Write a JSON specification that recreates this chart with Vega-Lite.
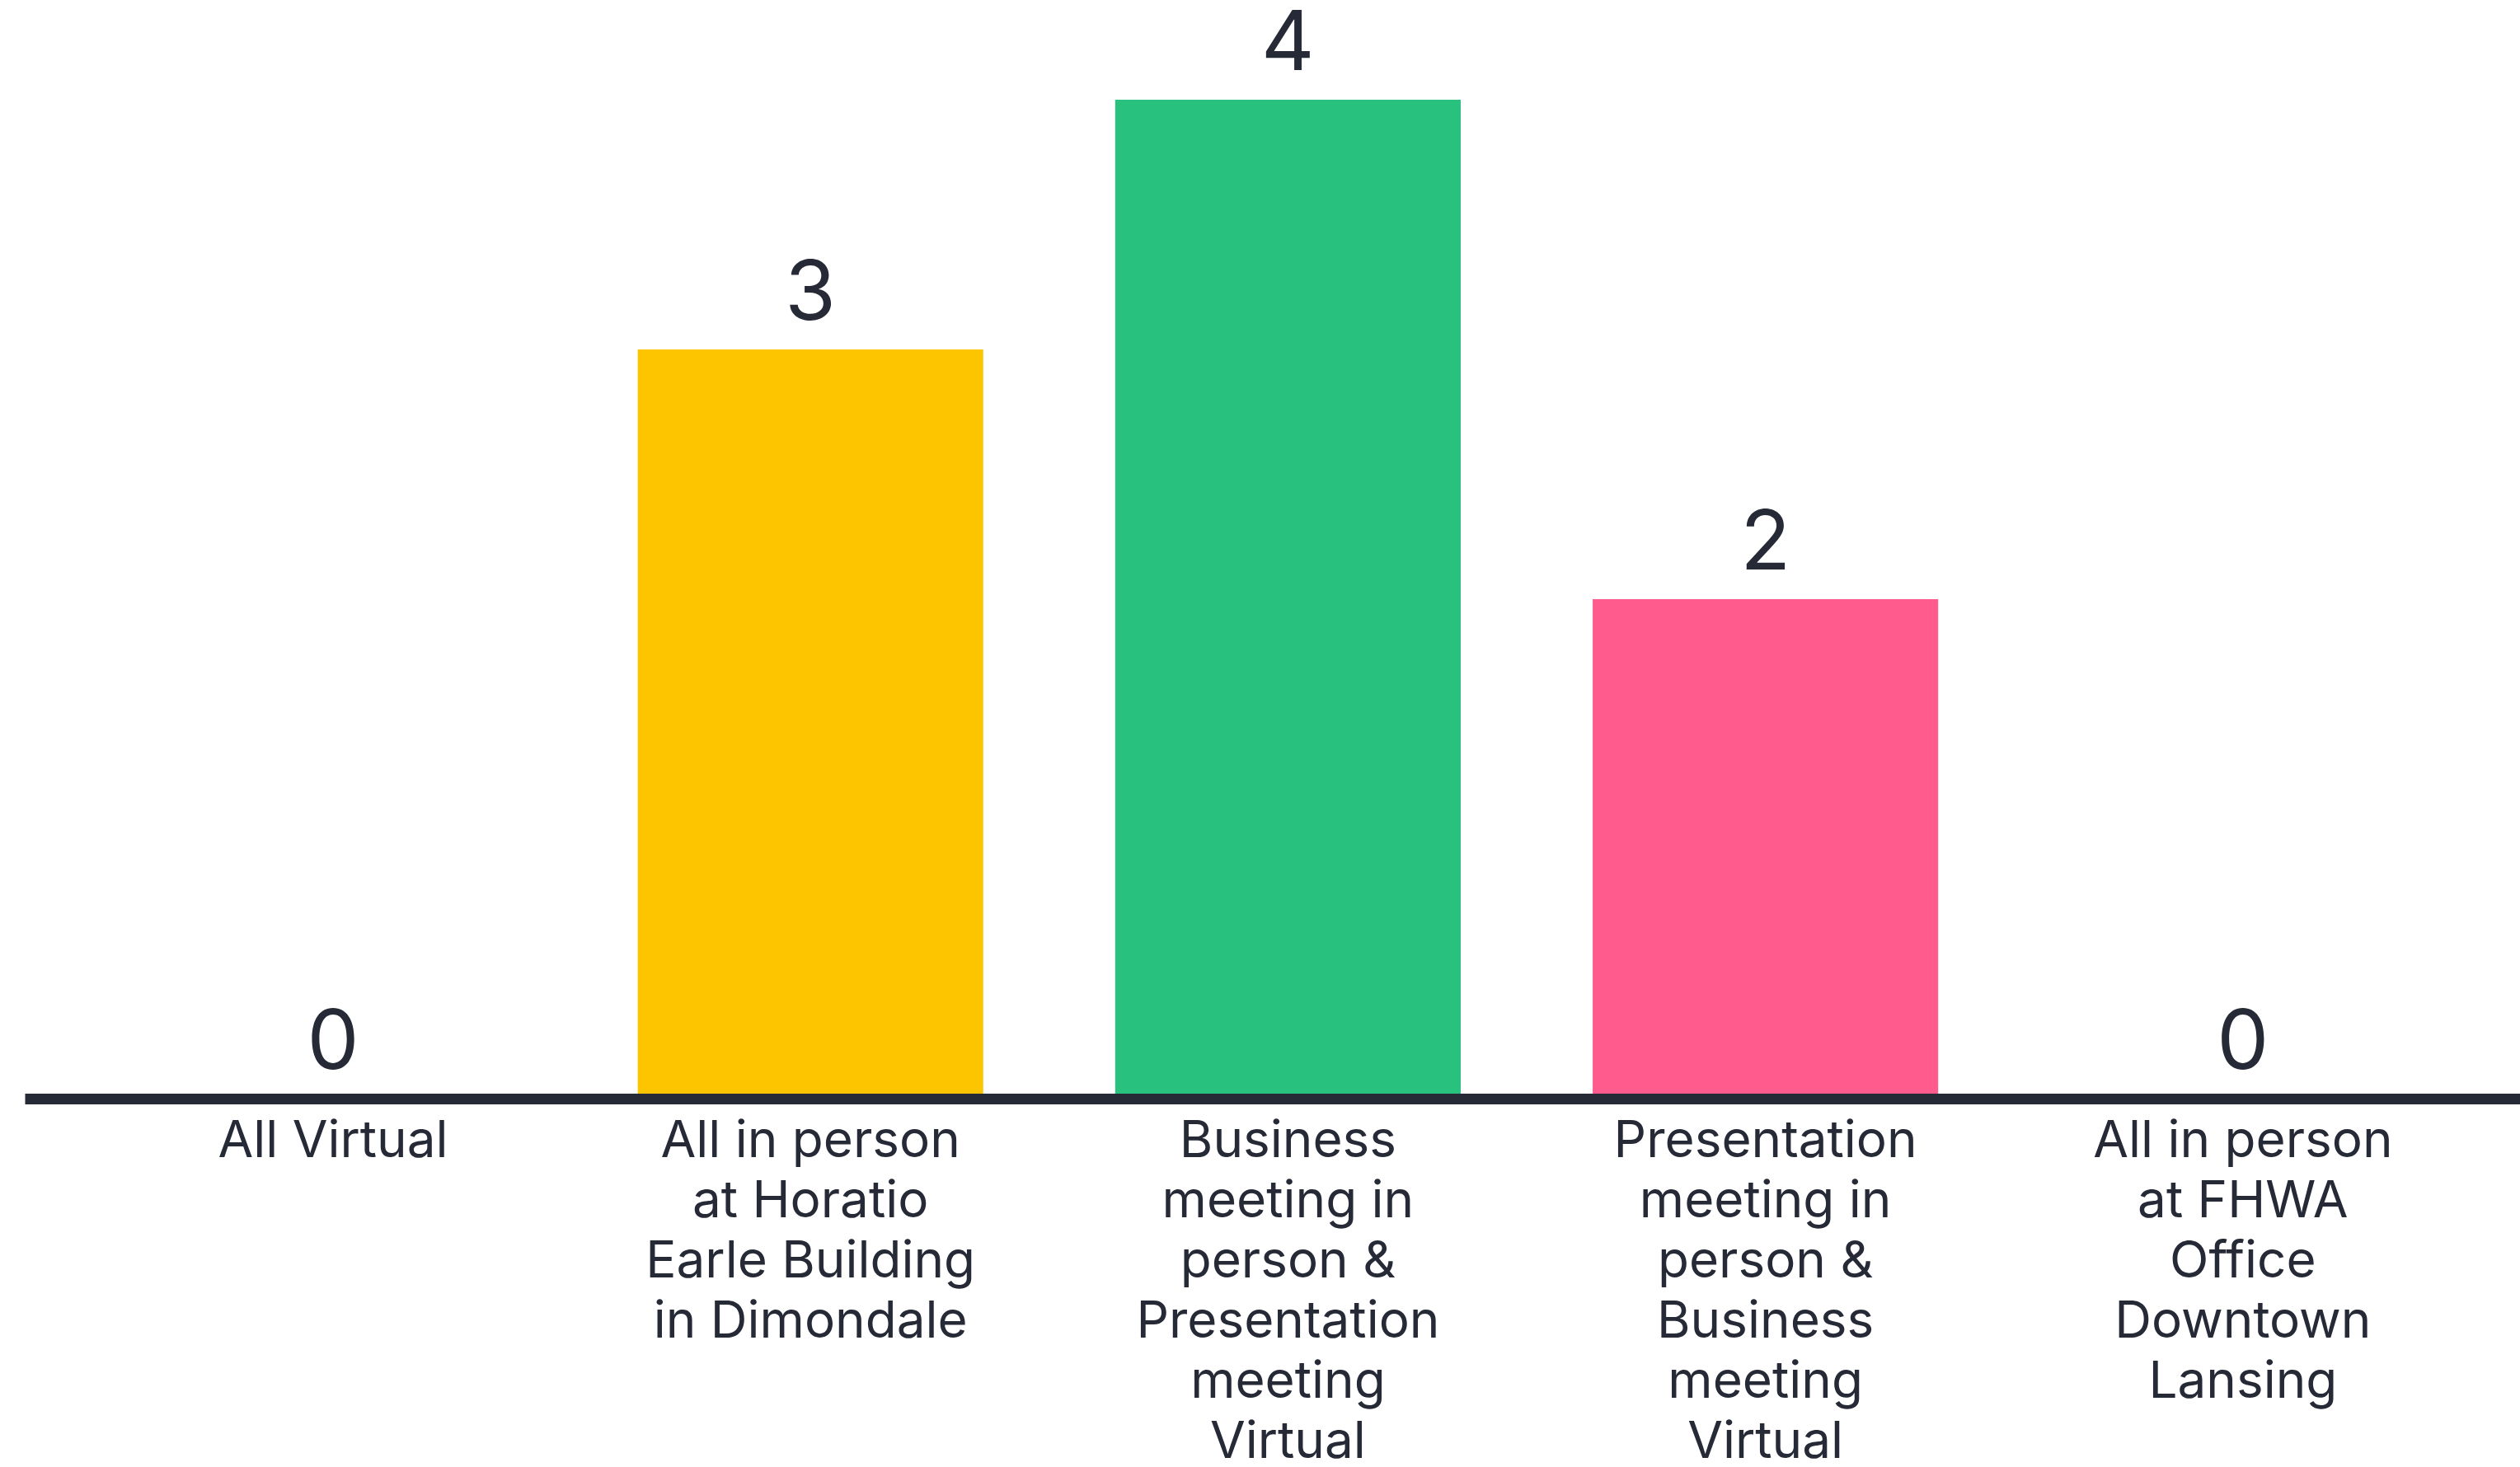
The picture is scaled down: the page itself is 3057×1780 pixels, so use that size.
{
  "$schema": "https://vega.github.io/schema/vega-lite/v6.json",
  "autosize": {"type": "none"},
  "width": 3027,
  "height": 1212,
  "padding": {"left": 30, "top": 121, "right": 0, "bottom": 447},
  "background": "#ffffff",
  "config": {"view": {"stroke": null}, "font": "Inter"},
  "data": {
    "values": [
      {"category": "All Virtual", "count": 0, "order": 1},
      {"category": "All in person\nat Horatio\nEarle Building\nin Dimondale", "count": 3, "order": 2},
      {"category": "Business\nmeeting in\nperson &\nPresentation\nmeeting\nVirtual", "count": 4, "order": 3},
      {"category": "Presentation\nmeeting in\nperson &\nBusiness\nmeeting\nVirtual", "count": 2, "order": 4},
      {"category": "All in person\nat FHWA\nOffice\nDowntown\nLansing", "count": 0, "order": 5}
    ]
  },
  "encoding": {
    "x": {
      "field": "category",
      "type": "nominal",
      "sort": {"field": "order"},
      "scale": {"paddingInner": 0.2764, "paddingOuter": 0.2512, "align": 0.565},
      "axis": {
        "title": null,
        "labelAngle": 0,
        "labelExpr": "split(datum.value, '\\n')",
        "labelFont": "Inter",
        "labelFontSize": 62,
        "labelLineHeight": 73,
        "labelColor": "#262A36",
        "labelLimit": 0,
        "labelPadding": 21,
        "labelBaseline": "top",
        "ticks": false,
        "tickSize": 0,
        "domainColor": "#262A36",
        "domainWidth": 13,
        "domainCap": "butt",
        "grid": false,
        "zindex": 1
      }
    },
    "y": {
      "field": "count",
      "type": "quantitative",
      "scale": {"domain": [0, 4], "nice": false, "zero": true},
      "axis": null
    }
  },
  "layer": [
    {
      "mark": {"type": "bar"},
      "encoding": {
        "color": {
          "field": "category",
          "type": "nominal",
          "sort": {"field": "order"},
          "scale": {"range": ["#8E8E8E", "#FDC500", "#28C27E", "#FF5C8D", "#8E8E8E"]},
          "legend": null
        }
      }
    },
    {
      "mark": {"type": "text", "dy": -36, "baseline": "alphabetic", "align": "center", "fontSize": 100, "font": "Inter", "color": "#262A36"},
      "encoding": {
        "text": {"field": "count", "type": "quantitative"}
      }
    }
  ]
}
